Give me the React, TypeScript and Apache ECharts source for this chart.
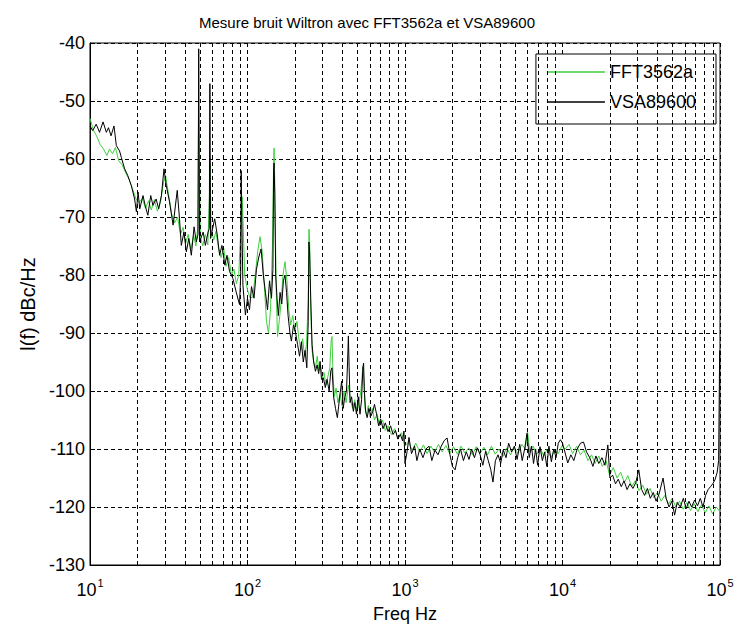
import React, { useEffect, useRef } from "react";
import * as echarts from "echarts";

const TITLE = "Mesure bruit Wiltron avec FFT3562a et VSA89600";
const X_NAME = "Freq Hz";
const Y_NAME = "l(f) dBc/Hz";
const SERIES_NAMES = ["FFT3562a", "VSA89600"];

// minor log grid lines (2..9 of each decade)
const MINOR_GRID_FREQS = [
  20, 30, 40, 50, 60, 70, 80, 90,
  200, 300, 400, 500, 600, 700, 800, 900,
  2000, 3000, 4000, 5000, 6000, 7000, 8000, 9000,
  20000, 30000, 40000, 50000, 60000, 70000, 80000, 90000,
];

// FFT3562a (green) : [frequency Hz, dBc/Hz]
const fftPoints: [number, number][] = [
  [10, -53], [10.5, -55], [11, -56], [11.6, -57.5], [12.2, -58.3], [12.8, -59.4], [13.3, -58.3], [13.9, -59.1],
  [14.5, -58], [15.2, -60.3], [16, -61], [16.8, -62.3], [17.7, -63.5], [18.6, -65.1], [19.6, -66.9], [20.5, -67.5],
  [21.5, -66.8], [22.5, -68.5], [23.5, -67.2], [24.5, -68.8], [25.6, -67], [26.8, -69], [28, -67.5], [29.3, -64],
  [30.2, -62.9], [31.5, -66], [33, -69.5], [34.5, -71], [36, -70], [37.5, -73], [39, -71.8], [40.5, -74.5],
  [42, -73], [43.7, -75.5], [45.5, -73.2], [47, -75], [48.3, -72], [48.9, -53.3], [49.5, -62], [50.3, -73.5],
  [52, -75], [54, -73], [56, -74.8], [57.4, -66], [58, -60.7], [58.7, -72], [61, -74], [63, -72.5],
  [65.5, -75.5], [68, -77], [70.5, -75.2], [73, -78.5], [76, -77], [79, -80], [82, -79], [85, -81.5],
  [88, -80], [91, -70.9], [92.5, -66.5], [94, -72], [96, -80], [100, -82.6], [104, -84], [108, -83.8],
  [112, -80], [116, -76], [120, -73.4], [124, -76], [128, -82], [132, -88], [136, -90], [140, -86],
  [144, -75], [146.5, -61], [147.5, -58.1], [149, -64], [152, -82], [155, -90.6], [159, -88], [163, -85],
  [168, -80], [173, -77.7], [178, -81], [183, -86], [188, -88.6], [194, -87], [200, -89.7], [206, -88],
  [212, -91], [218, -93], [224, -91], [230, -94], [237, -92], [243, -84], [245.5, -72.1], [248, -74],
  [252, -86], [257, -93], [263, -94.9], [270, -96], [277, -94], [284, -96.5], [291, -95.5], [298, -97.7],
  [306, -96.8], [315, -99], [324, -97.5], [333, -96], [340, -91.2], [344, -90.6], [349, -97], [356, -101],
  [365, -99.5], [375, -102], [387, -100.5], [398, -102.5], [410, -100], [423, -102], [437, -99], [450, -101.5],
  [465, -103], [480, -101.5], [495, -103.5], [510, -102], [525, -100], [540, -95.8], [548, -98], [558, -103],
  [570, -104], [585, -102.5], [600, -104.5], [620, -103], [640, -105], [665, -104], [690, -106], [720, -105],
  [750, -106.8], [780, -106], [820, -107.5], [860, -106.5], [900, -108], [950, -107.2], [1000, -109.5], [1050, -108.8],
  [1110, -110.2], [1170, -109], [1240, -110.5], [1310, -109.3], [1380, -110.8], [1460, -109.5], [1540, -110.6], [1630, -109.2],
  [1720, -110.5], [1820, -109.4], [1920, -110.8], [2030, -109.6], [2150, -110.9], [2270, -109.5], [2400, -110.7], [2540, -109.8],
  [2680, -111], [2830, -109.6], [3000, -110.8], [3170, -109.7], [3350, -111], [3540, -109.5], [3740, -110.9], [3950, -110],
  [4180, -111.3], [4420, -109.8], [4670, -111], [4940, -109.7], [5220, -110.8], [5520, -109.2], [5800, -110], [6000, -107],
  [6200, -110.5], [6500, -109.5], [6850, -111], [7200, -109.8], [7600, -111.2], [8000, -110], [8450, -111.5], [8900, -110.2],
  [9400, -110.8], [9900, -109.5], [10400, -110], [11000, -109.2], [11600, -110.8], [12300, -109.5], [13000, -111], [13700, -110.2],
  [14500, -112], [15300, -111], [16100, -112.5], [17000, -111.2], [17900, -113], [18900, -112], [19900, -114.5], [21000, -113.2],
  [22200, -115], [23400, -114], [24700, -115.8], [26000, -114.6], [27500, -116.5], [29000, -115.5], [30600, -117.2], [32300, -116.2],
  [34100, -117.8], [36000, -116.8], [38000, -118.4], [40100, -117.5], [42300, -119], [44600, -118], [47100, -119.5], [49700, -118.5],
  [52400, -120], [55300, -119], [58400, -120.4], [61600, -119.2], [65000, -120.6], [68600, -119.4], [72400, -120.8], [76400, -119.6],
  [80600, -121], [85000, -119.8], [89700, -121.2], [94600, -120], [100000, -120.8],
];

// VSA89600 (black) : [frequency Hz, dBc/Hz]
const vsaPoints: [number, number][] = [
  [10, -54.3], [10.4, -55.1], [10.95, -54], [11.5, -55.4], [12.1, -53.6], [12.7, -55.4], [13.1, -54.6], [13.6, -56],
  [14.2, -54.3], [14.7, -57.7], [15.4, -58.6], [15.8, -59.7], [16.6, -61.7], [17.4, -62.9], [18.3, -64.6], [19.2, -66.9],
  [19.7, -69.1], [20.2, -65.7], [20.7, -68.6], [21.7, -66.3], [22.4, -68], [23.3, -69.7], [24.3, -66.3], [25.1, -68],
  [26.3, -66.9], [27.3, -68.6], [28.4, -66.3], [29.5, -61.7], [30.5, -64.6], [32, -67.4], [33.7, -71.4], [35.8, -65.4],
  [37, -70.3], [38, -74.9], [39.5, -72.6], [40.9, -76], [42.4, -73.7], [44, -76.6], [45.8, -71.7], [47.3, -74.3],
  [48.5, -73], [49, -41], [49.6, -74.3], [52.3, -72.6], [54, -74.9], [56.2, -72.6], [57.2, -72], [57.7, -47],
  [58.3, -73.7], [61.9, -70.3], [64.3, -73.1], [66.5, -76.6], [68.8, -74.9], [71.8, -78.3], [74.1, -76.6], [76.9, -79.4],
  [80.8, -80.6], [84.7, -82.9], [89, -85.1], [90.5, -80], [91.2, -62], [92, -70], [93.5, -81.7], [97, -86.9],
  [100, -84], [103, -86], [106, -82], [110, -84], [114, -79], [118, -76.9], [122, -75.5], [126, -80],
  [130, -83], [134, -86], [138, -81], [142, -84], [145, -79], [146.5, -62], [147.5, -60.7], [149, -66],
  [151, -80], [154, -84], [157, -87], [161, -83], [165, -85], [169, -81], [173, -80], [177, -83],
  [181, -87], [186, -90], [190, -91.4], [196, -88.6], [202, -90], [208, -92], [214, -94], [220, -91.5],
  [226, -95], [232, -93], [238, -96], [243, -88], [245.5, -74.3], [248, -76], [252, -84], [257, -92],
  [263, -95], [270, -96.6], [277, -95.5], [283, -97], [289, -94.9], [295, -98], [303, -97.7], [312, -99.4],
  [320, -98], [330, -100], [338, -96.5], [344, -96], [352, -101], [362, -103], [372, -104.6], [385, -101],
  [396, -98.3], [405, -103], [415, -101], [425, -100], [432, -95], [437, -90.5], [442, -96], [448, -102],
  [458, -101], [470, -103.5], [480, -102], [492, -104], [505, -101], [518, -104], [530, -101.5], [540, -96],
  [546, -95.2], [552, -100], [562, -103.5], [575, -104.6], [590, -103], [608, -104.3], [625, -103.5], [640, -102.3],
  [660, -104], [680, -106], [700, -104.8], [725, -106.5], [750, -105.5], [780, -107], [810, -106], [840, -107.5],
  [870, -106.8], [900, -108.3], [935, -107.5], [965, -108.6], [985, -106.9], [1000, -112.5], [1030, -110.5], [1060, -108],
  [1100, -110.8], [1150, -109.5], [1190, -112], [1240, -110], [1300, -111.5], [1360, -110], [1420, -109.5], [1480, -112],
  [1550, -110.2], [1620, -111], [1700, -109.5], [1780, -108.5], [1850, -108.1], [1930, -111], [2000, -113], [2080, -113.6],
  [2160, -111.5], [2250, -110], [2350, -112], [2450, -110.5], [2550, -111.8], [2650, -110], [2760, -111.5], [2880, -109.8],
  [3000, -111], [3120, -112.8], [3250, -110.4], [3380, -112], [3500, -113.5], [3620, -115.7], [3750, -112], [3900, -111],
  [4050, -112.5], [4200, -110.2], [4380, -111.5], [4550, -109], [4750, -110.5], [4950, -109.5], [5150, -111.8], [5350, -109.2],
  [5550, -112], [5750, -110], [5950, -107.3], [6150, -111.5], [6350, -109.5], [6550, -112.5], [6750, -110], [6950, -112.8],
  [7200, -109.6], [7450, -112], [7700, -110.5], [7950, -113], [8200, -109.5], [8500, -112.2], [8800, -110], [9100, -111.5],
  [9400, -109], [9700, -108.4], [10000, -109], [10400, -110.7], [10800, -112.4], [11300, -111], [11800, -112], [12400, -110],
  [13000, -109], [13600, -108.8], [14200, -110.5], [14900, -111.5], [15600, -113], [16300, -111.2], [17000, -112.5], [17800, -111.5],
  [18600, -112.8], [19400, -109.3], [20000, -115], [20800, -114.5], [21700, -116], [22600, -115.2], [23600, -116.5], [24600, -115.5],
  [25700, -117], [26800, -116], [28000, -116.8], [29200, -115.8], [30500, -113.6], [31800, -117], [33200, -118], [34600, -116.8],
  [36100, -118.5], [37700, -117.5], [39300, -119], [41000, -117.8], [43500, -115], [45500, -118.5], [47500, -120], [49500, -119],
  [51500, -121.4], [53500, -119.2], [56000, -120], [58500, -118.5], [61000, -120.3], [63500, -119], [66000, -120], [69000, -118.8],
  [72000, -119.8], [75000, -118.5], [78000, -120], [81000, -118], [84000, -117], [87000, -116.5], [90000, -116], [93000, -115.3],
  [96000, -114], [98000, -112], [99500, -93],
];

const FONT = "'Liberation Sans', Arial, sans-serif";
const GRID_DASH = [4, 3];

export default function App() {
  const ref = useRef<HTMLDivElement>(null);

  useEffect(() => {
    if (!ref.current) return;
    const chart = echarts.init(ref.current, undefined, { renderer: "svg" });
    const option: any = {
      animation: false,
      backgroundColor: "#ffffff",
      textStyle: { fontFamily: FONT, color: "#000" },
      title: {
        text: TITLE,
        left: "center",
        top: 10,
        textStyle: { fontFamily: FONT, fontSize: 15, fontWeight: "normal", color: "#000" },
      },
      legend: {
        data: SERIES_NAMES,
        orient: "vertical",
        right: 18,
        top: 54,
        backgroundColor: "#ffffff",
        borderColor: "#000",
        borderWidth: 1,
        borderRadius: 0,
        padding: [8, 20, 12, 11],
        itemGap: 10,
        itemWidth: 58,
        itemHeight: 1.5,
        icon: "rect",
        textStyle: { fontFamily: FONT, fontSize: 18, color: "#000", lineHeight: 20 },
      },
      grid: {
        left: 90,
        right: 14,
        top: 43,
        bottom: 62,
        show: true,
        borderColor: "#000",
        borderWidth: 1,
        backgroundColor: "#fff",
        containLabel: false,
        outerBoundsMode: "none",
      },
      xAxis: {
        type: "log",
        logBase: 10,
        min: 10,
        max: 100000,
        name: X_NAME,
        nameLocation: "middle",
        nameGap: 40,
        nameTextStyle: { fontFamily: FONT, fontSize: 18, color: "#000" },
        axisLine: { show: true, lineStyle: { color: "#000", width: 1 } },
        axisTick: { show: true, inside: true, length: 5, lineStyle: { color: "#000" } },
        splitLine: { show: true, lineStyle: { color: "#000", width: 1, type: GRID_DASH } },
        axisLabel: {
          show: true,
          showMinLabel: true,
          showMaxLabel: true,
          margin: 12,
          formatter: (v: number) => `{b|10}{s|${Math.round(Math.log10(v))}}`,
          rich: {
            b: { fontFamily: FONT, fontSize: 18, color: "#000", lineHeight: 22, verticalAlign: "bottom" },
            s: { fontFamily: FONT, fontSize: 11, color: "#000", lineHeight: 22, verticalAlign: "top", padding: [0, 0, 0, 1] },
          },
        },
      },
      yAxis: {
        type: "value",
        min: -130,
        max: -40,
        interval: 10,
        name: Y_NAME,
        nameLocation: "middle",
        nameGap: 48,
        nameTextStyle: { fontFamily: FONT, fontSize: 20, color: "#000" },
        axisLine: { show: true, lineStyle: { color: "#000", width: 1 } },
        axisTick: { show: true, inside: true, length: 5, lineStyle: { color: "#000" } },
        splitLine: { show: true, lineStyle: { color: "#000", width: 1, type: GRID_DASH } },
        axisLabel: { fontFamily: FONT, fontSize: 18, color: "#000", margin: 5 },
      },
      series: [
        {
          name: "minor-grid",
          type: "line",
          data: [],
          silent: true,
          symbol: "none",
          markLine: {
            silent: true,
            symbol: "none",
            label: { show: false },
            lineStyle: { color: "#000", width: 1, type: GRID_DASH },
            data: MINOR_GRID_FREQS.map((f) => ({ xAxis: f })),
          },
        },
        {
          name: SERIES_NAMES[0],
          type: "line",
          data: fftPoints,
          symbol: "none",
          lineStyle: { color: "#3fcf3f", width: 1 },
          itemStyle: { color: "#3fcf3f" },
          z: 3,
        },
        {
          name: SERIES_NAMES[1],
          type: "line",
          data: vsaPoints,
          symbol: "none",
          lineStyle: { color: "#000000", width: 1 },
          itemStyle: { color: "#000000" },
          z: 4,
        },
      ],
    };
    chart.setOption(option);
    return () => chart.dispose();
  }, []);

  return (
    <div
      ref={ref}
      style={{ position: "fixed", left: 0, top: 0, width: 734, height: 627, background: "#fff" }}
    />
  );
}
